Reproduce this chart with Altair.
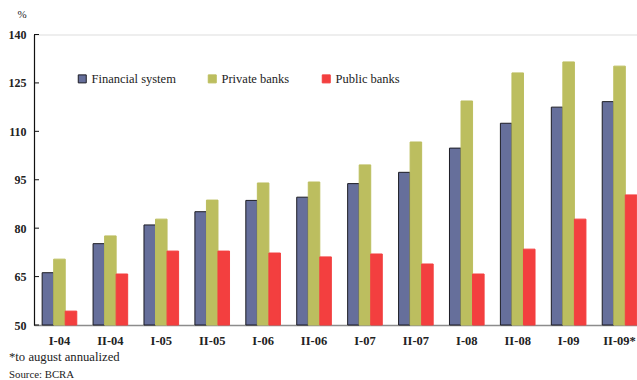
import altair as alt
import pandas as pd

periods = ["I-04", "II-04", "I-05", "II-05", "I-06", "II-06",
           "I-07", "II-07", "I-08", "II-08", "I-09", "II-09*"]
financial_system = [66.2, 75.2, 81.0, 85.1, 88.6, 89.6, 93.8, 97.3, 104.8, 112.5, 117.5, 119.2]
private_banks = [70.4, 77.6, 82.8, 88.7, 94.0, 94.3, 99.6, 106.7, 119.4, 128.1, 131.5, 130.2]
public_banks = [54.3, 65.8, 72.9, 72.9, 72.3, 71.1, 72.0, 68.9, 65.8, 73.5, 82.8, 90.3]
series_names = ["Financial system", "Private banks", "Public banks"]
series_colors = ["#666f9b", "#bcbe5f", "#f33f3f"]
series_strokes = ["#1c1c24", "#bcbe5f", "#f33f3f"]
y_ticks = [50, 65, 80, 95, 110, 125, 140]

rows = []
for name, vals in zip(series_names, [financial_system, private_banks, public_banks]):
    for p, v in zip(periods, vals):
        rows.append({"period": p, "series": name, "value": v})
df = pd.DataFrame(rows)

FONT = "Liberation Serif, Times New Roman, serif"
W, H = 603, 290.5
LEGEND_SIZE = 12.5

y_scale = alt.Scale(domain=[50, 140], nice=False, zero=False)

legend_opts = dict(orient="none", legendX=42, legendY=38,
                   direction="horizontal", symbolType="square",
                   symbolSize=64, symbolStrokeWidth=1,
                   labelFont=FONT, labelFontSize=LEGEND_SIZE,
                   labelColor="#222", labelOffset=3, columnPadding=30)

bars = alt.Chart(df).mark_bar(strokeWidth=1).encode(
    x=alt.X("period:N", sort=periods, title=None,
            scale=alt.Scale(range=[0, 611], paddingInner=0.32, paddingOuter=0.16),
            axis=alt.Axis(labelAngle=0, ticks=False, labelPadding=9,
                          labelFont=FONT, labelFontSize=12.5, labelFontWeight="bold",
                          labelColor="#222", domainColor="#8c8c8c", domainWidth=1.5)),
    xOffset=alt.XOffset("series:N", sort=series_names,
                        scale=alt.Scale(paddingInner=0, paddingOuter=0)),
    y=alt.Y("value:Q", scale=y_scale, title=None,
            axis=alt.Axis(values=y_ticks, ticks=False, labelPadding=8, grid=False,
                          labelFont=FONT, labelFontSize=12, labelFontWeight="bold",
                          labelColor="#222", domainColor="#111", domainWidth=1.2)),
    y2=alt.datum(50),
    color=alt.Color("series:N", sort=series_names, title=None,
                    scale=alt.Scale(domain=series_names, range=series_colors),
                    legend=alt.Legend(**legend_opts)),
    stroke=alt.Stroke("series:N", sort=series_names, title=None,
                      scale=alt.Scale(domain=series_names, range=series_strokes),
                      legend=alt.Legend(**legend_opts)),
)

tick_df = pd.DataFrame({"v": y_ticks})
ticks = alt.Chart(tick_df).mark_rule(color="#111", strokeWidth=1).encode(
    y=alt.Y("v:Q", scale=y_scale),
    x=alt.value(0), x2=alt.value(5),
)

unit = alt.Chart(pd.DataFrame({"t": ["%"]})).mark_text(
    font=FONT, fontSize=11, color="#222", align="center", baseline="middle"
).encode(text="t:N", x=alt.value(-12), y=alt.value(-20))

footnote = alt.Chart(pd.DataFrame({"t": ["*to august annualized"]})).mark_text(
    font=FONT, fontSize=12.7, color="#222", align="left", baseline="middle"
).encode(text="t:N", x=alt.value(-25), y=alt.value(H + 32))

source = alt.Chart(pd.DataFrame({"t": ["Source: BCRA"]})).mark_text(
    font=FONT, fontSize=10.8, color="#222", align="left", baseline="middle"
).encode(text="t:N", x=alt.value(-25), y=alt.value(H + 49.5))

chart = alt.layer(bars, ticks, unit, footnote, source).properties(
    width=W, height=H,
    autosize=alt.AutoSizeParams(type="none"),
    padding={"left": 34, "top": 34.5, "right": 0, "bottom": 55},
).configure_view(stroke=None).configure(background="white").configure_legend(
    labelFont=FONT, labelFontSize=LEGEND_SIZE
)

chart.save("out.html", embed_options={"renderer": "svg", "actions": False})
